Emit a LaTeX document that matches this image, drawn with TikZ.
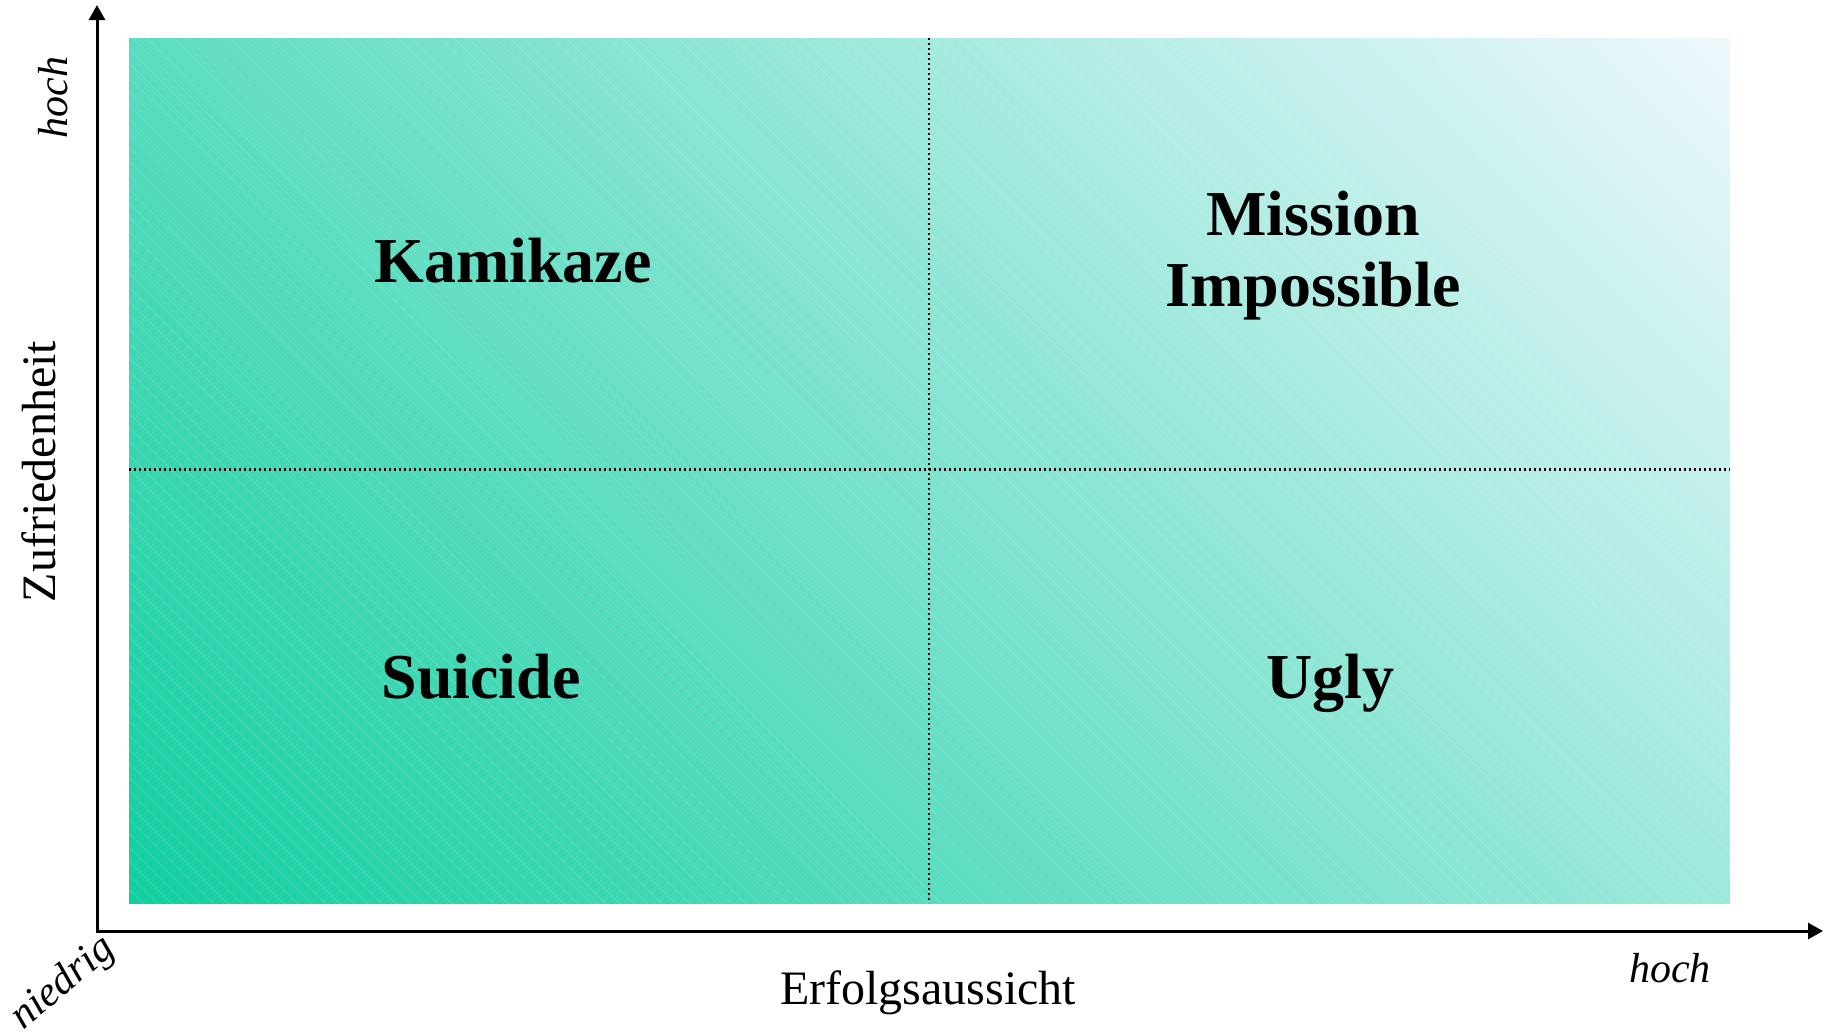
\documentclass[tikz,border=0pt]{standalone}
\usepackage{fontspec}
\setmainfont{Liberation Serif}
\usetikzlibrary{arrows.meta,shadings}
\definecolor{shadeBL}{RGB}{16,207,160}
\definecolor{shadeTL}{RGB}{90,220,192}
\definecolor{shadeBR}{RGB}{158,233,220}
\definecolor{shadeTR}{RGB}{238,248,253}
\begin{document}
\begin{tikzpicture}[x=0.5pt,y=-0.5pt,
  axisline/.style={line width=1.5pt,{Triangle[width=8pt,length=7.5pt]}-{Triangle[width=8pt,length=7.5pt]}},
  divider/.style={line width=1.1pt,dash pattern=on 1.1pt off 1.4pt},
  quadlabel/.style={font=\fontsize{32}{35}\selectfont\bfseries,anchor=base,inner sep=0pt},
  axislabel/.style={font=\fontsize{24}{28}\selectfont,anchor=base,inner sep=0pt},
  endlabel/.style={font=\fontsize{21}{24}\selectfont\itshape,anchor=base,inner sep=0pt}]
\useasboundingbox (0,0) rectangle (1830,1033);

% gradient field of the four quadrants
\shade[upper left=shadeTL, upper right=shadeTR, lower left=shadeBL, lower right=shadeBR]
  (129,38) rectangle (1730,903);
% faint diagonal texture
\begin{scope}
  \clip (129,38) rectangle (1730,903);
  \foreach \s in {-736,-722,...,1730}
    \draw[white,opacity=0.13,line width=0.6pt] (\s,38) -- ++(870,870);
\end{scope}

% quadrant dividers
\coordinate (vtop) at (929,38);
\coordinate (vbot) at (929,903);
\coordinate (hleft) at (129,469.5);
\coordinate (hright) at (1730,469.5);
\draw[divider] (vtop) -- (vbot);
\draw[divider] (hleft) -- (hright);

% axes
\coordinate (origin) at (97,931);
\coordinate (ytip) at (97,5);
\coordinate (xtip) at (1823,931);
\draw[axisline] (ytip) -- (origin) -- (xtip);

% quadrant names
\node[quadlabel] (kamikaze) at (513,282) {Kamikaze};
\node[quadlabel] (mission) at (1313,235) {Mission};
\node[quadlabel] (impossible) at (1313,306) {Impossible};
\node[quadlabel] (suicide) at (481,698) {Suicide};
\node[quadlabel] (ugly) at (1330,698) {Ugly};

% axis titles and ends
\node[axislabel] (xlabel) at (928,1004) {Erfolgsaussicht};
\node[axislabel,rotate=90] (ylabel) at (55,471.5) {Zufriedenheit};
\node[endlabel,rotate=90] (yhigh) at (67,97.5) {hoch};
\node[endlabel] (xhigh) at (1670,982) {hoch};
\node[endlabel,rotate=40] (low) at (70,991) {niedrig};
\end{tikzpicture}
\end{document}
